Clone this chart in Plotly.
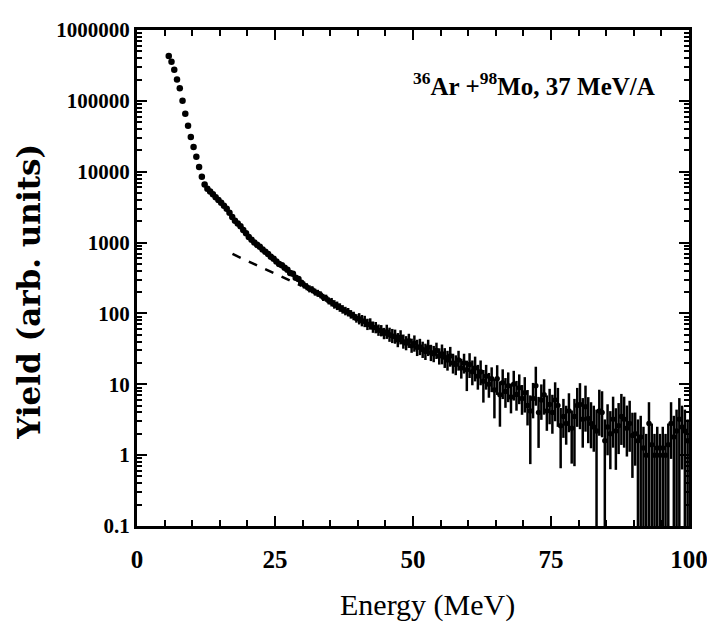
import numpy as np
import plotly.graph_objects as go

# ---------------- data ----------------
# 0.5 MeV bins, low-energy part drawn as dots
energy_dots = np.arange(5.75, 30.0, 0.5)
yield_dots = [430000, 355000, 275000, 200000, 151000, 100000, 66000, 44700, 30900, 22400,
              16200, 11700, 8500, 6600, 5750, 5250, 4800, 4350, 4000, 3650,
              3300, 3000, 2630, 2290, 2040, 1860, 1700, 1510, 1350, 1200,
              1100, 1000, 930, 870, 800, 740, 690, 630, 590, 540,
              500, 480, 440, 415, 372, 362, 318, 305, 272]

# higher-energy part drawn as points with statistical error bars
energy_hist = np.arange(30.25, 100.0, 0.5)
yield_hist = [252, 238, 222, 216, 200, 192, 183, 168, 164, 150,
              144, 134, 128, 121, 114, 108, 104, 97, 92, 85,
              84, 79, 77, 70, 71, 64, 63, 58, 57, 52,
              55, 50, 48, 47, 42, 46, 40, 38, 41, 35,
              38, 33, 34, 31, 29, 33, 28, 27, 30, 25,
              27, 24, 22, 25, 20, 19, 22, 17, 20, 16,
              19, 15, 17, 13, 15, 11, 13, 10, 12, 8.3,
              12, 7.1, 10.5, 7.9, 9.5, 6.6, 10, 7.2, 8.9, 6.3,
              7.6, 5.0, 4.2, 6.3, 9.5, 4.0, 6.0, 7.1, 4.2, 5.2,
              4.0, 6.0, 5.0, 2.6, 3.5, 2.8, 4.2, 2.4, 3.5, 5.0,
              5.2, 3.2, 4.8, 3.3, 2.8, 2.5, 2.2, 4.2, 4.0, 1.6,
              2.5, 2.0, 3.2, 2.2, 2.6, 3.5, 3.2, 2.4, 2.8, 1.9,
              2.0, 1.6, 1.8, 1.26, 1.0, 2.8, 1.4, 1.0, 1.26, 1.0,
              1.26, 1.0, 1.4, 2.8, 1.8, 2.2, 3.2, 2.5, 2.2, 1.6]
# error bar extent above / below each point, in decades
bar_up_dec = [0.05, 0.05, 0.05, 0.05, 0.05, 0.05, 0.05, 0.05, 0.05, 0.05,
              0.06, 0.06, 0.06, 0.06, 0.06, 0.06, 0.06, 0.06, 0.06, 0.06,
              0.08, 0.08, 0.08, 0.08, 0.08, 0.08, 0.08, 0.08, 0.08, 0.08,
              0.10, 0.10, 0.10, 0.10, 0.10, 0.10, 0.10, 0.10, 0.10, 0.10,
              0.11, 0.11, 0.11, 0.11, 0.11, 0.11, 0.11, 0.11, 0.11, 0.11,
              0.13, 0.13, 0.13, 0.13, 0.13, 0.13, 0.13, 0.13, 0.13, 0.13,
              0.16, 0.16, 0.16, 0.16, 0.16, 0.16, 0.16, 0.16, 0.16, 0.16,
              0.19, 0.19, 0.19, 0.19, 0.19, 0.19, 0.19, 0.19, 0.19, 0.19,
              0.22, 0.22, 0.22, 0.22, 0.27, 0.22, 0.22, 0.22, 0.22, 0.22,
              0.25, 0.25, 0.25, 0.25, 0.25, 0.25, 0.25, 0.25, 0.25, 0.25,
              0.30, 0.30, 0.30, 0.30, 0.30, 0.30, 0.30, 0.30, 0.30, 0.30,
              0.32, 0.32, 0.32, 0.32, 0.32, 0.32, 0.32, 0.32, 0.32, 0.32,
              0.30, 0.30, 0.30, 0.30, 0.30, 0.30, 0.30, 0.30, 0.30, 0.30,
              0.30, 0.30, 0.30, 0.30, 0.30, 0.30, 0.30, 0.30, 0.30, 0.30]
bar_dn_dec = [0.05, 0.05, 0.05, 0.05, 0.05, 0.05, 0.05, 0.05, 0.05, 0.05,
              0.06, 0.06, 0.06, 0.06, 0.06, 0.06, 0.06, 0.06, 0.06, 0.06,
              0.08, 0.08, 0.08, 0.08, 0.08, 0.08, 0.08, 0.08, 0.08, 0.08,
              0.10, 0.10, 0.10, 0.10, 0.10, 0.10, 0.10, 0.10, 0.10, 0.10,
              0.12, 0.12, 0.12, 0.12, 0.12, 0.12, 0.12, 0.12, 0.12, 0.12,
              0.15, 0.15, 0.15, 0.15, 0.15, 0.15, 0.15, 0.15, 0.15, 0.30,
              0.19, 0.19, 0.19, 0.19, 0.19, 0.30, 0.19, 0.19, 0.19, 0.40,
              0.23, 0.45, 0.23, 0.23, 0.23, 0.23, 0.23, 0.23, 0.23, 0.23,
              0.28, 0.28, 0.75, 0.28, 0.28, 0.50, 0.28, 0.28, 0.28, 0.28,
              0.30, 0.30, 0.30, 0.60, 0.30, 0.30, 0.30, 0.50, 0.70, 0.30,
              0.35, 0.40, 0.35, 0.35, 0.35, 0.35, 3.00, 0.35, 0.35, 3.00,
              0.40, 0.50, 0.40, 0.55, 0.40, 0.40, 0.40, 0.40, 0.40, 0.60,
              0.45, 3.00, 3.00, 3.00, 3.00, 3.00, 3.00, 3.00, 3.00, 3.00,
              3.00, 3.00, 3.00, 0.50, 3.00, 3.00, 3.00, 0.60, 3.00, 3.00]

# dashed reference line
fit_energy = [17.3, 29.8]
fit_yield = [690, 245]

# axis ticks
x_ticks = [0, 25, 50, 75, 100]
x_minor = [5, 10, 15, 20, 30, 35, 40, 45, 55, 60, 65, 70, 80, 85, 90, 95]
y_ticks = [0.1, 1, 10, 100, 1000, 10000, 100000, 1000000]
y_ticktext = ["0.1", "1", "10", "100", "1000", "10000", "100000", "1000000"]
y_minor = [m * 10.0 ** d for d in range(-1, 6) for m in range(2, 10)]

# ---------------- figure ----------------
yh = np.array(yield_hist, dtype=float)
err_plus = yh * (10 ** np.array(bar_up_dec) - 1)
err_minus = yh * (1 - 10 ** (-np.array(bar_dn_dec)))

fig = go.Figure()
fig.add_trace(go.Scatter(
    x=energy_hist, y=yh, mode="markers",
    marker=dict(color="black", size=5.5),
    error_y=dict(type="data", array=err_plus, arrayminus=err_minus,
                 symmetric=False, color="black", thickness=2.5, width=0),
    hoverinfo="skip"))
fig.add_trace(go.Scatter(
    x=energy_dots, y=yield_dots, mode="markers",
    marker=dict(color="black", size=6.5), hoverinfo="skip"))
fig.add_trace(go.Scatter(
    x=fit_energy, y=fit_yield, mode="lines",
    line=dict(color="black", width=2.5, dash="dash"), hoverinfo="skip"))

tick_font_x = dict(family="Liberation Serif", size=25, color="black", weight="bold")
tick_font_y = dict(family="Liberation Serif", size=21, color="black", weight="bold")

fig.update_xaxes(
    range=[0, 100], tickmode="array", tickvals=x_ticks,
    ticks="inside", ticklen=10, tickwidth=2, tickcolor="black",
    showline=True, linewidth=3, linecolor="black", mirror="allticks",
    showgrid=False, zeroline=False, tickfont=tick_font_x,
    ticklabelstandoff=9, automargin=False, ticklabeloverflow="allow",
    minor=dict(tickvals=x_minor, ticks="inside", ticklen=6, tickwidth=1.5,
               tickcolor="black", showgrid=False))
fig.update_yaxes(
    type="log", range=[-1, 6], tickmode="array", tickvals=y_ticks, ticktext=y_ticktext,
    ticks="inside", ticklen=10, tickwidth=2, tickcolor="black",
    showline=True, linewidth=3, linecolor="black", mirror="allticks",
    showgrid=False, zeroline=False, tickfont=tick_font_y,
    ticklabelstandoff=0, automargin=False, ticklabeloverflow="allow",
    minor=dict(tickvals=y_minor, ticks="inside", ticklen=5, tickwidth=1.5,
               tickcolor="black", showgrid=False))

fig.add_annotation(
    text="<sup>36</sup>Ar +<sup>98</sup>Mo, 37 MeV/A",
    xref="paper", yref="paper", x=0.942, y=0.891, xanchor="right", yanchor="middle",
    showarrow=False,
    font=dict(family="Liberation Serif", size=25, color="black", weight="bold"))
fig.add_annotation(
    text="Energy (MeV)", xref="paper", yref="paper", x=0.5, y=0,
    xanchor="center", yanchor="middle", xshift=14, yshift=-79, showarrow=False,
    font=dict(family="Liberation Serif", size=30, color="black"))
fig.add_annotation(
    text="Yield (arb. units)", xref="paper", yref="paper", x=-0.1957, y=0.472,
    xanchor="center", yanchor="middle", textangle=-90, showarrow=False,
    font=dict(family="DejaVu Serif", size=31, color="black", weight="bold"))

fig.update_layout(
    width=707, height=627, margin=dict(l=137, r=18, t=30, b=101, autoexpand=False),
    plot_bgcolor="white", paper_bgcolor="white", showlegend=False)

fig.write_html("out.html")
